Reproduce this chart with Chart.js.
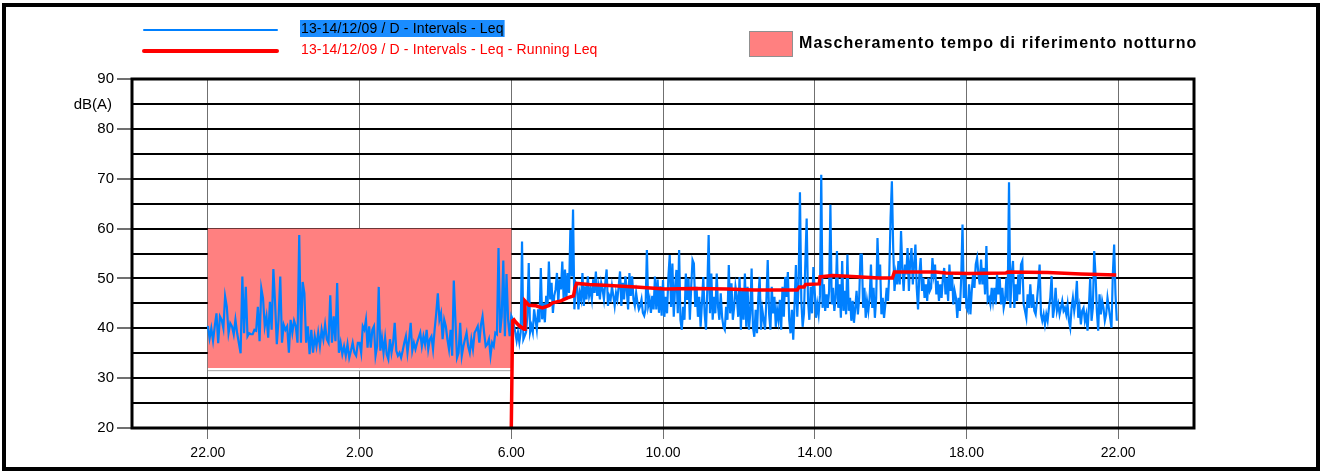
<!DOCTYPE html>
<html>
<head>
<meta charset="utf-8">
<script src="https://cdn.jsdelivr.net/npm/chart.js@4/dist/chart.umd.min.js"></script>
<style>
  html, body { margin: 0; padding: 0; background: #fff; }
  canvas { display: block; }
</style>
</head>
<body>
<canvas id="noiseChart" width="1325" height="471"></canvas>
<script>
// hours counted from midnight of 13/12 (22 = 22.00, 30 = 6.00 of 14/12, 46 = 22.00 of 14/12)
const xTicks = [22, 26, 30, 34, 38, 42, 46];
const blockStarts = [22, 26, 30, 34, 38, 42];
const blockHours = 4;

// Leq per interval, one array per 4 hour block
const leq22 = [40.5, 38, 40, 37.5, 40.4, 43, 37, 42.4, 41.7, 40, 46.4, 44.3, 39, 41, 40.4, 38.8, 41.7, 39, 37, 35, 50.4, 39, 48.3, 38.4, 39, 38.8, 38.8, 39.7, 39.5, 44.3, 37.4, 48, 46, 40.4, 42.4, 38.1, 45.3, 39.7, 51.9, 45, 36.8, 41.7, 50.4, 37.1, 40.7, 39.7, 40.4, 35.1, 41.7, 39.1, 41.5, 40.4, 37.1, 58.7, 37.1, 49.3, 47, 37.1, 40.4, 34.8, 39.7, 35.1, 38.4, 36.4, 39.1, 36.4, 39.7, 37.8, 40.7, 37.8, 37.1, 46.6, 37.1, 42.4, 37.4, 49.1, 35.1, 37.1, 34.8, 36.4, 34.5, 36.8, 34.1, 35.5, 37.1, 35.1, 34.5, 37.1];
const leq02 = [37.1, 35.1, 40.4, 39.7, 41.7, 36.1, 40.4, 36.1, 39.7, 40.4, 34.5, 36.4, 48.3, 35.5, 38.1, 35.1, 38.1, 34.8, 33.8, 37.8, 35.1, 37.1, 41.1, 35.5, 34.5, 35.1, 34.1, 35.5, 37.1, 38.4, 35.1, 37.8, 41.1, 35.5, 37.1, 35.8, 37.1, 38.1, 39.1, 36.4, 38.4, 36.8, 39.7, 35.8, 37.8, 38.4, 35.8, 39.7, 43.0, 47.0, 41.7, 43.0, 37.8, 41.7, 40.4, 37.8, 35.8, 39.7, 34.5, 49.6, 41.7, 34.1, 35.1, 41.1, 34.5, 36.4, 37.8, 39.1, 36.4, 35.1, 37.8, 35.8, 39.1, 39.7, 40.4, 37.1, 40.7, 42.4, 39.1, 36.4, 36.8, 37.8, 34.5, 37.1, 36.4, 39.1, 38.8, 56.1, 39.1, 42.4, 53.6, 38.4, 50.9, 41.7, 38.4];
const leq06 = [42.5, 41.8, 40.5, 39.2, 37.5, 39.2, 37.2, 39.2, 57.4, 37.8, 38.5, 39.2, 42.5, 53.1, 39.2, 40.5, 39.2, 43.8, 41.8, 39.8, 43.8, 41.2, 52.1, 41.8, 45.1, 41.2, 46.5, 44.5, 53.4, 45.8, 49.1, 43.1, 46.5, 47.8, 51.1, 45.1, 49.8, 47.8, 53.4, 45.8, 51.8, 45.8, 51.1, 47.1, 59.7, 50.4, 63.8, 43.8, 49.1, 48.4, 43.8, 47.1, 45.8, 51.1, 44.5, 48.4, 45.8, 50.4, 46.5, 47.8, 45.8, 49.8, 47.1, 51.4, 46.5, 48.4, 45.8, 49.1, 47.8, 45.8, 49.1, 51.8, 44.5, 46.5, 45.8, 48.4, 46.5, 44.5, 47.1, 45.8, 48.4, 51.4, 44.5, 49.1, 45.8, 50.4, 47.8, 43.8, 51.1, 46.5, 50.4, 45.8, 44.5, 47.1, 45.1, 43.8, 44.5, 45.8, 43.1, 42.5, 43.8, 55.7, 44.5, 45.8, 43.1, 46.5, 43.8, 50.4, 43.8, 49.8, 43.1, 48.4, 42.5];
const leq10 = [49.7, 42.3, 46.3, 43, 50.3, 54.7, 44.3, 53, 42.3, 48.3, 51.7, 43, 55.7, 41.7, 39.7, 44.3, 41.7, 51, 45.7, 50, 41.7, 48.3, 53.7, 53, 44.3, 48.3, 42.3, 46.3, 40.3, 45, 50.3, 43, 39.7, 47.7, 58.7, 43, 51, 41.7, 46.3, 43, 51, 44.3, 41.7, 47, 42.3, 40.3, 39.7, 44.3, 41.7, 52.7, 43, 49, 41.7, 44.3, 48.3, 46.3, 42.3, 50.3, 39.7, 47.7, 41.7, 51, 40.3, 48.3, 39.7, 43, 52, 40.3, 38.3, 43.7, 39, 46.3, 50.3, 39.7, 43.7, 41.7, 39.7, 45.7, 53.7, 43, 39.7, 48.3, 43, 46.3, 40.3, 43.7, 41.7, 45.7, 39.7, 48.3, 42.3, 50.3, 46.3, 51.3, 41.7, 39, 43.7, 37.7, 45, 52.7, 42.3, 49, 67.3, 45.7, 40.3, 43, 53, 62, 45.7, 41.7, 48.3, 43, 52.3];
const leq14 = [47.5, 42.1, 44.8, 42.8, 46.5, 70.8, 44.1, 48.8, 43.5, 46.8, 44.1, 47.5, 64.8, 44.8, 48.1, 43.5, 46.1, 55.5, 44.1, 48.8, 42.1, 53.5, 43.5, 47.5, 42.8, 54.8, 43.5, 46.1, 41.5, 45.5, 41.1, 44.1, 47.5, 42.8, 46.1, 54.8, 54.8, 44.1, 48.1, 42.1, 45.5, 43.5, 46.1, 52.8, 44.1, 48.1, 42.1, 46.1, 58.1, 50.1, 52.8, 42.8, 46.1, 42.1, 44.8, 48.1, 45.5, 50.8, 62.1, 69.5, 56.1, 47.5, 50.8, 48.8, 53.5, 48.8, 59.5, 52.1, 47.5, 52.8, 50.8, 56.1, 47.5, 53.5, 56.1, 48.8, 52.8, 56.8, 48.1, 43.8, 50.8, 54.1, 47.5, 50.1, 46.1, 48.8, 45.5, 50.1, 47.5, 48.1, 54.1, 50.8, 52.8, 46.8, 49.5, 45.5, 48.8, 46.1, 50.1, 52.1, 46.8, 50.1, 45.5, 52.8, 47.5, 50.8, 44.8, 47.5, 46.1, 42.1, 46.1, 43.5, 50.1, 60.8, 46.1, 50.8];
const leq18 = [44.1, 43.5, 48.8, 42.8, 47.5, 50.8, 48.1, 52.8, 54.1, 50.8, 48.8, 53.8, 48.8, 52.1, 46.8, 56.5, 45.5, 46.1, 44.8, 48.1, 45.5, 48.1, 44.8, 50.8, 46.8, 50.1, 44.8, 48.1, 44.1, 45.5, 50.1, 45.5, 69.3, 44.1, 50.8, 53.5, 44.1, 48.8, 45.5, 50.8, 46.8, 52.8, 53.5, 44.8, 43.5, 42.1, 46.8, 44.1, 48.8, 44.1, 46.8, 43.5, 42.8, 45.5, 48.8, 52.8, 42.8, 41.5, 42.8, 40.8, 42.8, 41.5, 44.1, 46.1, 50.5, 42.1, 44.1, 48.1, 43.5, 44.8, 42.8, 44.1, 45.5, 43.5, 44.1, 42.8, 44.8, 41.5, 40.1, 44.1, 46.1, 43.5, 45.5, 49.5, 42.1, 44.1, 40.8, 43.5, 44.1, 41.5, 42.8, 39.5, 44.1, 50.1, 41.5, 44.1, 55.5, 50.8, 43.5, 39.5, 46.8, 42.8, 45.5, 44.1, 41.5, 42.8, 46.1, 44.1, 42.1, 40.1, 50.8, 56.8, 46.8, 41.5];

// running Leq
const runTimes = [30.0, 30.035, 30.07, 30.12, 30.21, 30.34, 30.36, 30.47, 30.65, 30.82, 31.0, 31.09, 31.31, 31.48, 31.64, 31.68, 31.72, 32.05, 32.58, 33.28, 34.05, 34.82, 35.7, 36.4, 37.54, 37.59, 37.72, 37.76, 38.12, 38.14, 38.47, 38.74, 39.7, 40.05, 40.1, 41.19, 41.46, 42.05, 43.04, 43.09, 44.14, 45.02, 45.95];
const runLeq = [20, 41.5, 41.7, 41.2, 40.5, 39.8, 45.5, 44.6, 44.5, 44.1, 44.6, 45.1, 45.5, 46.1, 46.5, 48.1, 49.0, 48.8, 48.6, 48.3, 47.9, 48.0, 47.9, 47.7, 47.7, 48.3, 48.3, 48.8, 48.9, 50.3, 50.6, 50.5, 50.1, 50.1, 51.3, 51.3, 51.1, 51.0, 51.1, 51.3, 51.2, 50.9, 50.7];

// night reference period mask
const maskStart = 22, maskEnd = 30, maskLow = 32, maskHigh = 60;

const blueLabel = '13-14/12/09 / D - Intervals - Leq';
const redLabel = '13-14/12/09 / D - Intervals - Leq - Running Leq';
const maskLabel = 'Mascheramento tempo di riferimento notturno';

const blueColor = '#0080ff';
const redColor = '#ff0000';
const pink = '#ff8080';
const fontFamily = '"Liberation Sans", Arial, sans-serif';

const leqPoints = [];
[leq22, leq02, leq06, leq10, leq14, leq18].forEach(function (block, b) {
    block.forEach(function (v, i) {
        leqPoints.push({ x: blockStarts[b] + i * blockHours / block.length, y: v });
    });
});
const runPoints = runTimes.map(function (t, i) { return { x: t, y: runLeq[i] }; });

const framePlugin = {
    id: 'frame',
    beforeDraw: function (chart) {
        const ctx = chart.ctx;
        ctx.save();
        ctx.fillStyle = '#fff';
        ctx.fillRect(0, 0, chart.width, chart.height);
        ctx.restore();
    },
    beforeDatasetsDraw: function (chart) {
        const ctx = chart.ctx;
        const x = chart.scales.x, y = chart.scales.y;
        const l = x.getPixelForValue(maskStart), r = x.getPixelForValue(maskEnd);
        const t = y.getPixelForValue(maskHigh), b = y.getPixelForValue(maskLow);
        ctx.save();
        ctx.fillStyle = pink;
        ctx.fillRect(l, t, r - l, b - t);
        ctx.fillStyle = '#fff';
        ctx.fillRect(l, b, r - l, 2);
        ctx.fillStyle = '#a0a0a0';
        ctx.fillRect(l, b + 2, r - l, 1);
        ctx.restore();
    },
    afterDatasetsDraw: function (chart) {
        const ctx = chart.ctx, a = chart.chartArea;
        ctx.save();
        ctx.strokeStyle = '#000';
        ctx.lineWidth = 3;
        ctx.strokeRect(a.left, a.top, a.right - a.left, a.bottom - a.top);
        ctx.restore();
    },
    afterDraw: function (chart) {
        const ctx = chart.ctx, a = chart.chartArea;
        ctx.save();
        // unit label
        ctx.font = '15px ' + fontFamily;
        ctx.fillStyle = '#000';
        ctx.textAlign = 'right';
        ctx.textBaseline = 'middle';
        ctx.fillText('dB(A)', a.left - 20, a.top + 26);

        // series legend
        ctx.textAlign = 'left';
        ctx.font = '14px ' + fontFamily;
        ctx.lineCap = 'round';
        ctx.strokeStyle = blueColor;
        ctx.lineWidth = 2;
        ctx.beginPath(); ctx.moveTo(144, 30); ctx.lineTo(277, 30); ctx.stroke();
        ctx.letterSpacing = '0.15px';
        const bw = ctx.measureText(blueLabel).width;
        ctx.fillStyle = '#1a8cff';
        ctx.fillRect(300, 20, bw + 2, 17);
        ctx.fillStyle = '#000';
        ctx.fillText(blueLabel, 301, 29);

        ctx.strokeStyle = redColor;
        ctx.lineWidth = 4;
        ctx.beginPath(); ctx.moveTo(144, 51); ctx.lineTo(277, 51); ctx.stroke();
        ctx.fillStyle = redColor;
        ctx.fillText(redLabel, 301, 50);

        // mask legend
        ctx.letterSpacing = '0px';
        ctx.fillStyle = pink;
        ctx.fillRect(750, 32, 42, 24);
        ctx.strokeStyle = '#909090';
        ctx.lineWidth = 1;
        ctx.strokeRect(749.5, 31.5, 43, 25);
        ctx.font = 'bold 16px ' + fontFamily;
        ctx.letterSpacing = '1.1px';
        ctx.fillStyle = '#000';
        ctx.fillText(maskLabel, 799, 44);
        ctx.letterSpacing = '0px';

        // outer frame
        ctx.strokeStyle = '#000';
        ctx.lineWidth = 4;
        ctx.strokeRect(4, 5, 1314, 464);
        ctx.restore();
    }
};

new Chart(document.getElementById('noiseChart').getContext('2d'), {
    type: 'line',
    data: {
        datasets: [{
            label: redLabel,
            data: runPoints,
            borderColor: redColor,
            borderWidth: 3.5,
            pointRadius: 0,
            tension: 0,
            order: 0
        }, {
            label: blueLabel,
            data: leqPoints,
            borderColor: blueColor,
            borderWidth: 2.2,
            pointRadius: 0,
            tension: 0,
            order: 1
        }]
    },
    options: {
        responsive: false,
        animation: false,
        devicePixelRatio: 1,
        layout: { padding: { left: 62, right: 131, top: 79, bottom: 8 } },
        plugins: { legend: { display: false }, tooltip: { enabled: false } },
        scales: {
            x: {
                type: 'linear',
                min: 20,
                max: 48,
                afterBuildTicks: function (scale) {
                    scale.ticks = xTicks.map(function (v) { return { value: v }; });
                },
                afterFit: function (scale) { scale.height = 35; },
                ticks: {
                    color: '#000',
                    font: { family: fontFamily, size: 14 },
                    padding: 6,
                    maxRotation: 0,
                    autoSkip: false,
                    callback: function (v) { return (v % 24) + '.00'; }
                },
                grid: { color: '#707070', lineWidth: 1, tickLength: 11, tickColor: '#707070' },
                border: { display: false }
            },
            y: {
                min: 20,
                max: 90,
                afterFit: function (scale) { scale.width = 70; },
                ticks: {
                    stepSize: 5,
                    color: '#000',
                    font: { family: fontFamily, size: 15 },
                    padding: 3,
                    callback: function (v) { return v % 10 === 0 ? v : ''; }
                },
                grid: {
                    color: '#000',
                    lineWidth: 2,
                    tickLength: 15,
                    tickColor: function (c) { return c.tick && c.tick.value % 10 === 0 ? '#707070' : 'rgba(0,0,0,0)'; }
                },
                border: { display: false }
            }
        }
    },
    plugins: [framePlugin]
});
</script>
</body>
</html>
